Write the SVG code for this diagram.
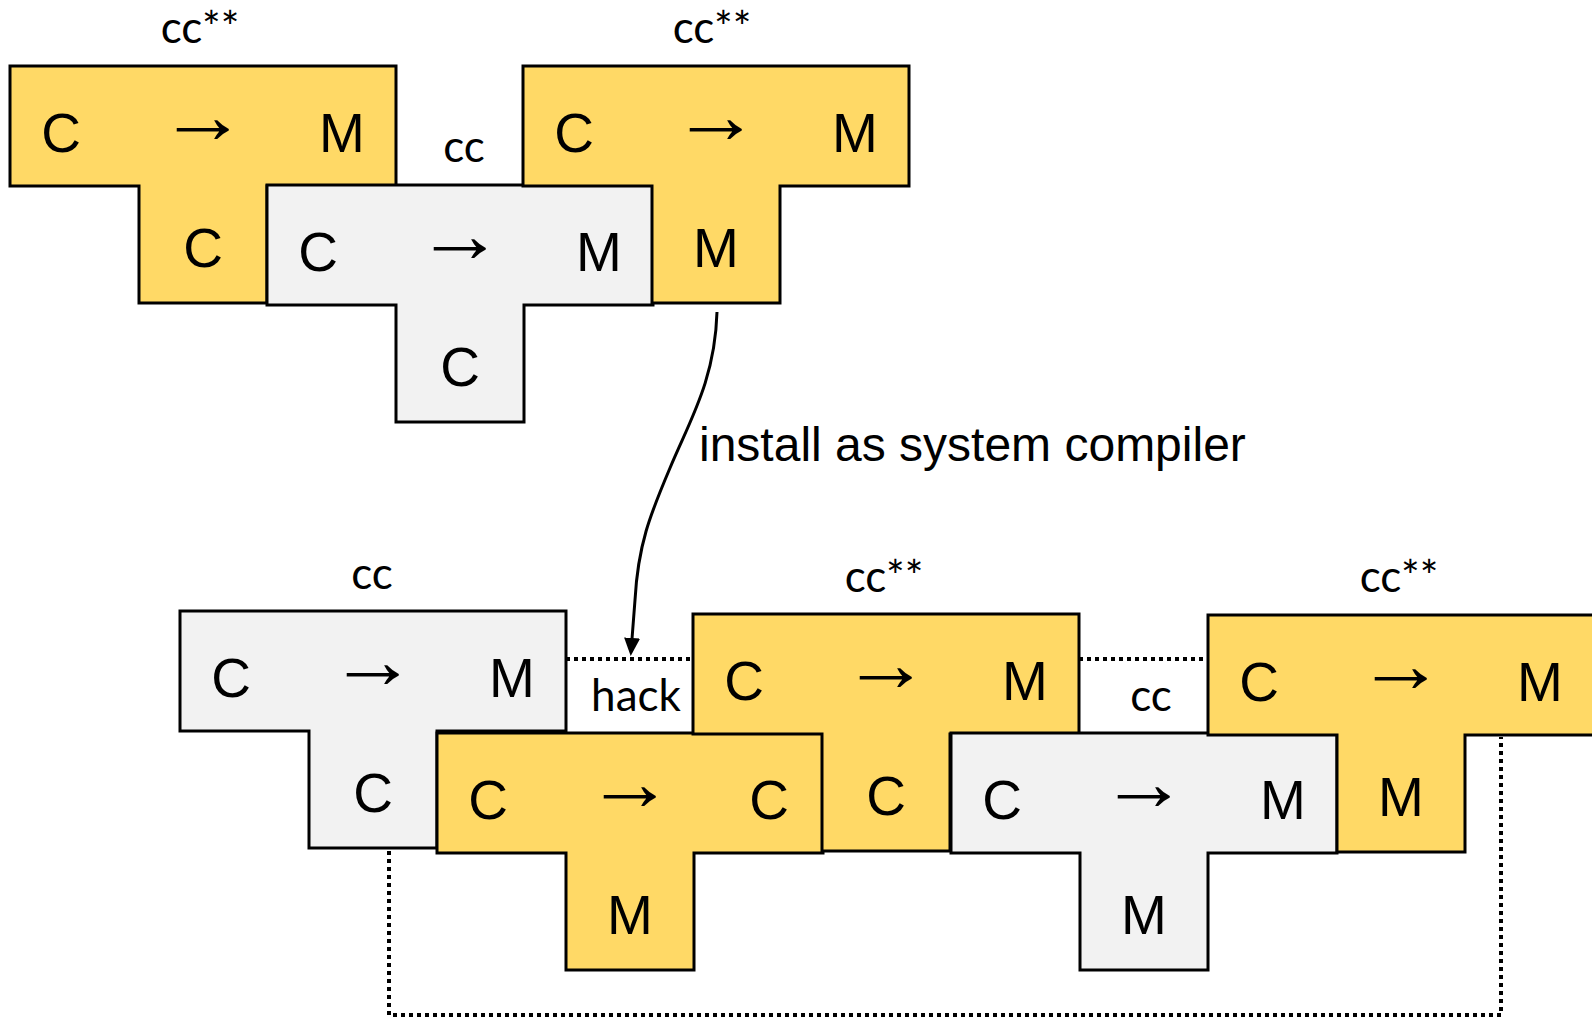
<svg xmlns="http://www.w3.org/2000/svg" xmlns:xlink="http://www.w3.org/1999/xlink" width="1592" height="1020" viewBox="0 0 1592 1020">
  <defs>
    <!-- T-diagram outline: top bar (source -> target) with implementation stem -->
    <path id="tee" d="M0,0 H386 V120 H257 V237 H129 V120 H0 Z"/>
    <marker id="head" viewBox="0 0 18 16" refX="1" refY="8" markerWidth="18" markerHeight="16" markerUnits="userSpaceOnUse" orient="auto">
      <path d="M0,0 L18,8 L0,16 Z" fill="#000"/>
    </marker>
    <style>
      .shape { stroke: #000; stroke-width: 3; stroke-linejoin: miter; }
      .gold { fill: #FFD966; }
      .grey { fill: #F2F2F2; }
      .sym { font-family: "Liberation Sans", Arial, sans-serif; font-size: 55px; fill: #000; text-anchor: middle; }
      .arr { font-size: 80px; }
      .lbl { font-family: Lato, "Open Sans", sans-serif; font-size: 44px; fill: #000; text-anchor: middle; }
      .note { font-family: "Liberation Sans", Arial, sans-serif; font-size: 48px; fill: #000; }
      .dots { fill: none; stroke: #000; stroke-width: 4; stroke-dasharray: 4 4; }
      .link { fill: none; stroke: #000; stroke-width: 3; }
    </style>
  </defs>

  <rect width="1592" height="1020" fill="#fff"/>

  <!-- upper row: cc** compiled by cc -->
  <g id="t1-ccss">
    <text class="lbl" x="200" y="43">cc**</text>
    <g transform="translate(10,66)">
      <use xlink:href="#tee" class="shape gold"/>
      <text class="sym" x="51" y="86">C</text>
      <text class="sym arr" transform="translate(193,77) scale(1.1,1)">→</text>
      <text class="sym" x="332" y="86">M</text>
      <text class="sym" x="193" y="201">C</text>
    </g>
  </g>
  <g id="t2-cc">
    <text class="lbl" x="464" y="162">cc</text>
    <g transform="translate(267,185)">
      <use xlink:href="#tee" class="shape grey"/>
      <text class="sym" x="51" y="86">C</text>
      <text class="sym arr" transform="translate(193,77) scale(1.1,1)">→</text>
      <text class="sym" x="332" y="86">M</text>
      <text class="sym" x="193" y="201">C</text>
    </g>
  </g>
  <g id="t3-ccss">
    <text class="lbl" x="712" y="43">cc**</text>
    <g transform="translate(523,66)">
      <use xlink:href="#tee" class="shape gold"/>
      <text class="sym" x="51" y="86">C</text>
      <text class="sym arr" transform="translate(193,77) scale(1.1,1)">→</text>
      <text class="sym" x="332" y="86">M</text>
      <text class="sym" x="193" y="201">M</text>
    </g>
  </g>

  <!-- lower row: hacked bootstrap chain -->
  <g id="b1-cc">
    <text class="lbl" x="372" y="589">cc</text>
    <g transform="translate(180,611)">
      <use xlink:href="#tee" class="shape grey"/>
      <text class="sym" x="51" y="86">C</text>
      <text class="sym arr" transform="translate(193,77) scale(1.1,1)">→</text>
      <text class="sym" x="332" y="86">M</text>
      <text class="sym" x="193" y="201">C</text>
    </g>
  </g>
  <g id="b2-hack">
    <text class="lbl" x="636" y="711">hack</text>
    <g transform="translate(437,733)">
      <use xlink:href="#tee" class="shape gold"/>
      <text class="sym" x="51" y="86">C</text>
      <text class="sym arr" transform="translate(193,77) scale(1.1,1)">→</text>
      <text class="sym" x="332" y="86">C</text>
      <text class="sym" x="193" y="201">M</text>
    </g>
  </g>
  <g id="b3-ccss">
    <text class="lbl" x="884" y="592">cc**</text>
    <g transform="translate(693,614)">
      <use xlink:href="#tee" class="shape gold"/>
      <text class="sym" x="51" y="86">C</text>
      <text class="sym arr" transform="translate(193,77) scale(1.1,1)">→</text>
      <text class="sym" x="332" y="86">M</text>
      <text class="sym" x="193" y="201">C</text>
    </g>
  </g>
  <g id="b4-cc">
    <text class="lbl" x="1151" y="711">cc</text>
    <g transform="translate(951,733)">
      <use xlink:href="#tee" class="shape grey"/>
      <text class="sym" x="51" y="86">C</text>
      <text class="sym arr" transform="translate(193,77) scale(1.1,1)">→</text>
      <text class="sym" x="332" y="86">M</text>
      <text class="sym" x="193" y="201">M</text>
    </g>
  </g>
  <g id="b5-ccss">
    <text class="lbl" x="1399" y="592">cc**</text>
    <g transform="translate(1208,615)">
      <use xlink:href="#tee" class="shape gold"/>
      <text class="sym" x="51" y="86">C</text>
      <text class="sym arr" transform="translate(193,77) scale(1.1,1)">→</text>
      <text class="sym" x="332" y="86">M</text>
      <text class="sym" x="193" y="201">M</text>
    </g>
  </g>

  <!-- connectors -->
  <g id="connectors">
    <path class="link" d="M717,312 C715,380 690,420 670,468 C650,515 638,545 635,600 L632,639" marker-end="url(#head)"/>
    <text class="note" x="699" y="461">install as system compiler</text>
    <path class="dots" d="M566,659 H693"/>
    <path class="dots" d="M1079,659 H1208"/>
    <path class="dots" d="M389,851 V1015 H1501 V737"/>
  </g>
</svg>
